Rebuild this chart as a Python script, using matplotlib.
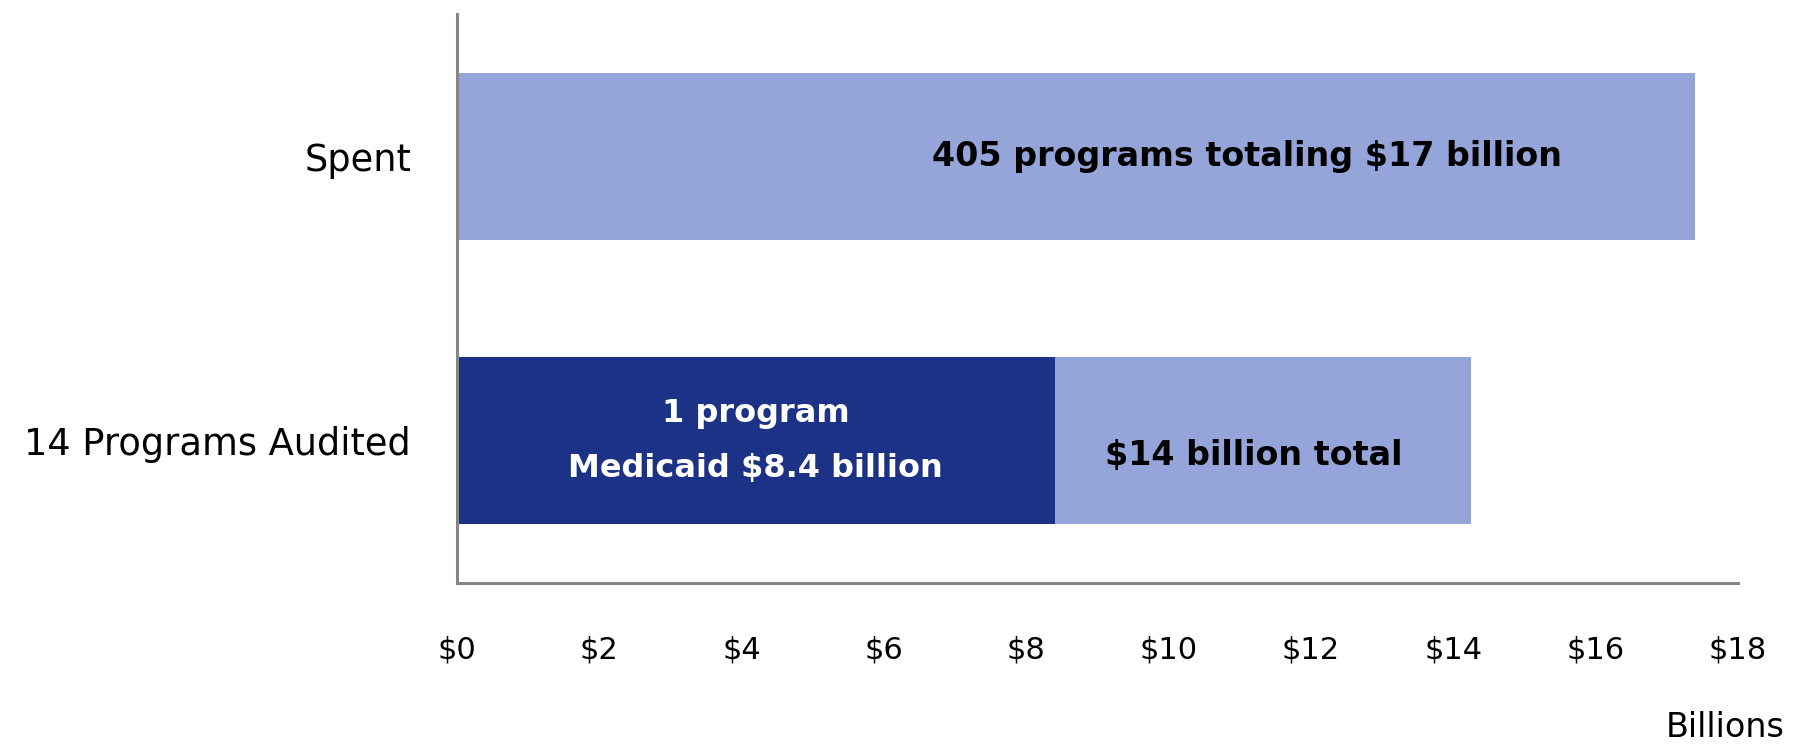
import matplotlib.pyplot as plt

categories = ["14 Programs Audited", "Spent"]
medicaid = [8.4, 0]
other = [5.85, 17.4]
tick_vals = [0, 2, 4, 6, 8, 10, 12, 14, 16, 18]
tick_labels = ["$" + str(v) for v in tick_vals]

light = "#95a5da"
dark = "#1c3286"
spine_col = "#868686"

plt.rcParams['font.family'] = ['DejaVu Sans']

fig = plt.figure(figsize=(18.01, 7.45), dpi=100)
ax = fig.add_axes([0.2537, 0.2174, 0.965 - 0.2537, 0.9812 - 0.2174])

y = range(len(categories))
ax.barh(y, medicaid, height=0.586, color=dark)
ax.barh(y, other, left=medicaid, height=0.586, color=light)

ax.set_xlim(0, 18)
ax.set_ylim(-0.5, 1.5)
ax.set_xticks(tick_vals)
ax.set_xticklabels(tick_labels)
ax.set_yticks(list(y))
ax.set_yticklabels(categories)
ax.tick_params(axis='x', length=0, pad=38, labelsize=22)
ax.tick_params(axis='y', length=0, pad=33, labelsize=26.5)

for s in ['top', 'right']:
    ax.spines[s].set_visible(False)
for s in ['left', 'bottom']:
    ax.spines[s].set_color(spine_col)
    ax.spines[s].set_linewidth(2.2)

# bar annotations
ax.text(11.1, 1, "405 programs totaling $17 billion", ha='center', va='center',
        fontsize=24, fontweight='bold', color='black')
ax.text(medicaid[0] / 2, 0, "1 program\nMedicaid $8.4 billion", ha='center', va='center',
        fontsize=23, fontweight='bold', color='white', linespacing=2.0)
ax.text(11.2, -0.05, "$14 billion total", ha='center', va='center',
        fontsize=24, fontweight='bold', color='black')

fig.text(0.991, 0.024, "Billions", ha='right', va='center', fontsize=24)

fig.savefig("out.png", dpi=100)
